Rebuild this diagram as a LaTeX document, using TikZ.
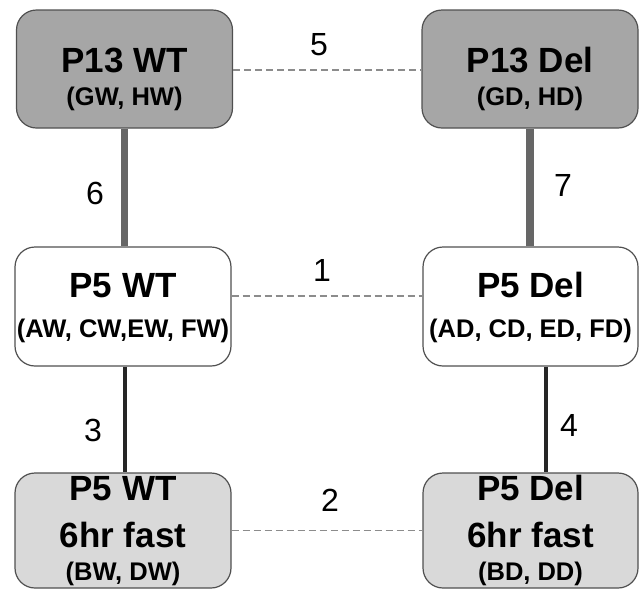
\documentclass[tikz,border=0pt]{standalone}
\usepackage{fontspec}
\setmainfont{Liberation Sans}
\definecolor{darkfill}{HTML}{A6A6A6}
\definecolor{lightfill}{HTML}{D9D9D9}
\definecolor{boxline}{HTML}{505050}
\definecolor{thickline}{HTML}{666666}
\definecolor{dashline}{HTML}{8C8C8C}
\tikzset{
  box/.style={draw=boxline, line width=1.2pt, rounded corners=20pt, minimum width=216pt, minimum height=118pt, inner sep=0pt},
  titletext/.style={font=\bfseries\fontsize{35}{40}\selectfont, anchor=base, inner sep=0pt},
  subtext/.style={font=\bfseries\fontsize{25.5}{30}\selectfont, anchor=base, inner sep=0pt},
  numtext/.style={font=\fontsize{32}{36}\selectfont, inner sep=0pt},
  thickconn/.style={draw=thickline, line width=7.5pt},
  thinconn/.style={draw=black!85, line width=3.4pt},
  dashconn/.style={draw=dashline, line width=1.4pt, dash pattern=on 7pt off 4pt},
}
\begin{document}
\begin{tikzpicture}[x=1pt,y=-1pt]
\useasboundingbox (0,0) rectangle (640,590);
% boxes
\node[box, fill=darkfill] (tl) at (124.5,69) {};
\node[box, fill=darkfill] (tr) at (530,69) {};
\node[box, fill=white, minimum height=119pt] (ml) at (123,306.5) {};
\node[box, fill=white, minimum height=119pt, minimum width=215pt] (mr) at (530.5,306.5) {};
\node[box, fill=lightfill, minimum height=115pt] (bl) at (123,530.5) {};
\node[box, fill=lightfill, minimum height=115pt, minimum width=215pt] (br) at (530.5,530.5) {};
% texts
\node[titletext] (tlt) at ([yshift=-3pt]tl.center) {P13 WT};
\node[subtext] (tls) at ([yshift=-36pt]tl.center) {(GW, HW)};
\node[titletext] (trt) at ([yshift=-3pt]tr.center) {P13 Del};
\node[subtext] (trs) at ([yshift=-36pt]tr.center) {(GD, HD)};
\node[titletext] (mlt) at ([yshift=9.5pt]ml.center) {P5 WT};
\node[subtext] (mls) at ([yshift=-30.5pt]ml.center) {(AW, CW,EW, FW)};
\node[titletext] (mrt) at ([yshift=9.5pt]mr.center) {P5 Del};
\node[subtext] (mrs) at ([yshift=-30.5pt]mr.center) {(AD, CD, ED, FD)};
\node[titletext] (blt) at ([yshift=30.5pt]bl.center) {P5 WT};
\node[titletext] (blf) at ([yshift=-16.5pt]bl.center) {6hr fast};
\node[subtext] (bls) at ([yshift=-49.5pt]bl.center) {(BW, DW)};
\node[titletext] (brt) at ([yshift=30.5pt]br.center) {P5 Del};
\node[titletext] (brf) at ([yshift=-16.5pt]br.center) {6hr fast};
\node[subtext] (brs) at ([yshift=-49.5pt]br.center) {(BD, DD)};
% connectors
\draw[dashconn] ([yshift=-1pt]tl.east) -- ([yshift=-1pt]tr.west);
\draw[dashconn] ([yshift=10.5pt]ml.east) -- ([yshift=10.5pt]mr.west);
\draw[dashconn] (bl.east) -- (br.west);
\draw[thickconn] (tl.south) -- (tl.south |- ml.north);
\draw[thickconn] (tr.south) -- (tr.south |- mr.north);
\draw[thinconn] ([xshift=2pt]ml.south) -- ([xshift=2pt]bl.north);
\draw[thinconn] ([xshift=15.5pt]mr.south) -- ([xshift=15.5pt]br.north);
% labels
\node[numtext] (n5) at (319,45) {5};
\node[numtext] (n1) at (322,270) {1};
\node[numtext] (n2) at (330,500) {2};
\node[numtext] (n6) at (95,193) {6};
\node[numtext] (n7) at (563,185) {7};
\node[numtext] (n3) at (93,430) {3};
\node[numtext] (n4) at (569,425) {4};
\end{tikzpicture}
\end{document}
